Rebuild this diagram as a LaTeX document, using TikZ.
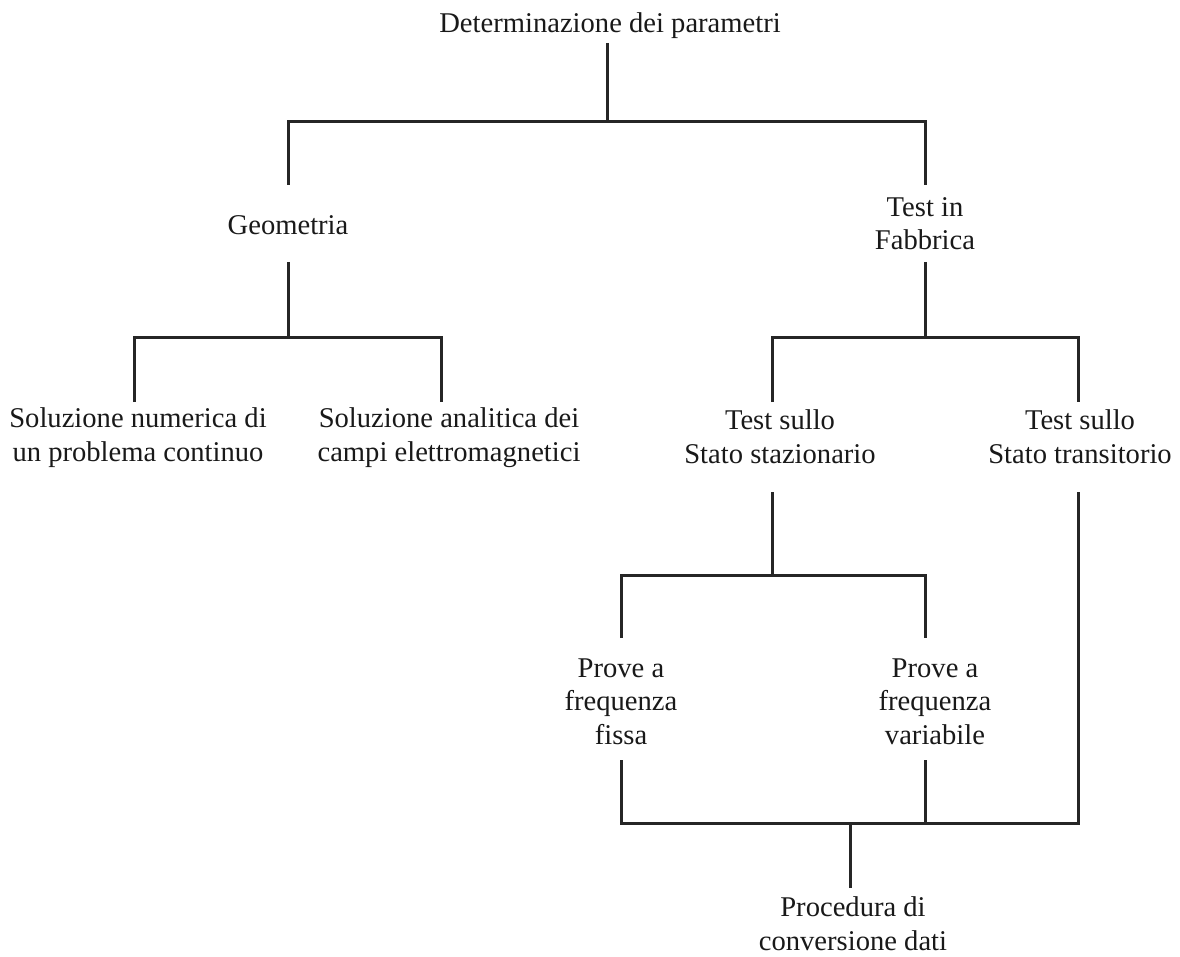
\documentclass[tikz,border=0pt]{standalone}
\usepackage{fontspec}
\setmainfont{Liberation Serif}
\begin{document}
\begin{tikzpicture}[x=1pt,y=-1pt,
  lbl/.style={font=\fontsize{28.6}{33.5}\selectfont, align=center, inner sep=0pt, anchor=base, text=black!90},
  link/.style={line width=3pt, draw=black!85, line join=miter, line cap=butt}]
\useasboundingbox (0,0) rectangle (1180,957);

% labels (anchored at the baseline of their last line)
\node[lbl] (title) at (610,33)  {Determinazione dei parametri};
\node[lbl] (geo)   at (288,235) {Geometria};
\node[lbl] (fab)   at (925,250) {Test in\\Fabbrica};
\node[lbl] (num)   at (138,461) {Soluzione numerica di\\un problema continuo};
\node[lbl] (ana)   at (449,461) {Soluzione analitica dei\\campi elettromagnetici};
\node[lbl] (sta)   at (780,463) {Test sullo\\Stato stazionario};
\node[lbl] (tra)   at (1080,463) {Test sullo\\Stato transitorio};
\node[lbl] (fis)   at (621,744) {Prove a\\frequenza\\fissa};
\node[lbl] (var)   at (935,744) {Prove a\\frequenza\\variabile};
\node[lbl] (proc)  at (853,950) {Procedura di\\conversione dati};

% connector ends and junctions
\coordinate (titleB) at (607,43);
\coordinate (j0)     at (607,122);
\coordinate (geoT)   at (288,185);
\coordinate (geoB)   at (288,262);
\coordinate (j1)     at (288,338);
\coordinate (fabT)   at (925,185);
\coordinate (fabB)   at (925,262);
\coordinate (j2)     at (925,338);
\coordinate (numT)   at (134,402);
\coordinate (anaT)   at (441,402);
\coordinate (staT)   at (772,402);
\coordinate (traT)   at (1078,402);
\coordinate (staB)   at (772,492);
\coordinate (traB)   at (1078,492);
\coordinate (j3)     at (772,575);
\coordinate (fisT)   at (621,638);
\coordinate (varT)   at (925,638);
\coordinate (fisB)   at (621,760);
\coordinate (varB)   at (925,760);
\coordinate (j4)     at (850,823);
\coordinate (procT)  at (850,888);

% tree connectors
\draw[link] (titleB) -- (j0);
\draw[link] (geoT) -- (geoT |- j0) -- (fabT |- j0) -- (fabT);
\draw[link] (geoB) -- (j1);
\draw[link] (numT) -- (numT |- j1) -- (anaT |- j1) -- (anaT);
\draw[link] (fabB) -- (j2);
\draw[link] (staT) -- (staT |- j2) -- (traT |- j2) -- (traT);
\draw[link] (staB) -- (j3);
\draw[link] (fisT) -- (fisT |- j3) -- (varT |- j3) -- (varT);
\draw[link] (fisB) -- (fisB |- j4) -- (traB |- j4) -- (traB);
\draw[link] (varB) -- (varB |- j4);
\draw[link] (j4) -- (procT);
\end{tikzpicture}
\end{document}
